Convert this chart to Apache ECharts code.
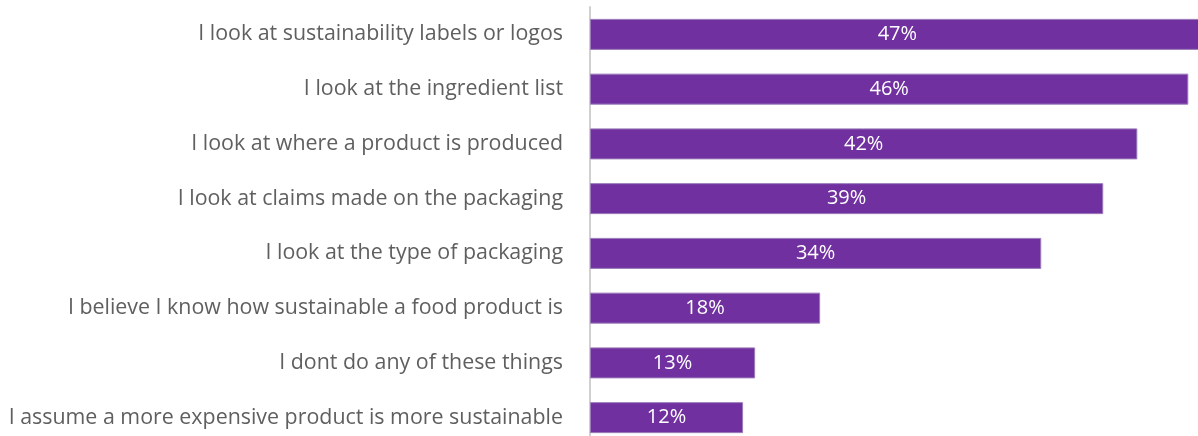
<!DOCTYPE html>
<html>
<head>
<meta charset="utf-8">
<script src="https://cdn.jsdelivr.net/npm/echarts@6/dist/echarts.min.js"></script>
<style>
  html, body { margin: 0; padding: 0; background: #fff; }
  #chart { width: 1198px; height: 436px; }
</style>
</head>
<body>
<div id="chart"></div>
<script>
// statements, top to bottom as shown
var statements = [
    'I look at sustainability labels or logos',
    'I look at the ingredient list',
    'I look at where a product is produced',
    'I look at claims made on the packaging',
    'I look at the type of packaging',
    'I believe I know how sustainable a food product is',
    'I dont do any of these things',
    'I assume a more expensive product is more sustainable'
];
// share of respondents (%); labels are rounded
var shares = [46.9, 45.65, 41.76, 39.16, 34.43, 17.56, 12.6, 11.68];

var myChart = echarts.init(document.getElementById('chart'));
var option = {
    animation: false,
    grid: {
        left: 590,
        width: 616,
        top: 7,
        height: 438,
        containLabel: false,
        outerBoundsMode: 'none'
    },
    xAxis: {
        type: 'value',
        min: 0,
        max: 47,
        show: false
    },
    yAxis: {
        type: 'category',
        inverse: true,
        data: statements,
        axisLine: { show: true, lineStyle: { color: '#d0d0d0', width: 2 } },
        axisTick: { show: false },
        axisLabel: {
            margin: 27,
            fontFamily: 'Open Sans',
            fontSize: 21.4,
            color: '#5f5f5f'
        }
    },
    series: [
        {
            type: 'bar',
            data: shares,
            barWidth: 31,
            clip: false,
            itemStyle: {
                color: '#7030A0',
                borderColor: '#9b7bb8',
                borderWidth: 1
            },
            label: {
                show: true,
                position: 'inside',
                color: '#fff',
                fontFamily: 'Open Sans',
                fontSize: 20,
                formatter: function (p) {
                    return Math.round(p.value) + '%';
                }
            }
        }
    ]
};
myChart.setOption(option);
</script>
</body>
</html>
